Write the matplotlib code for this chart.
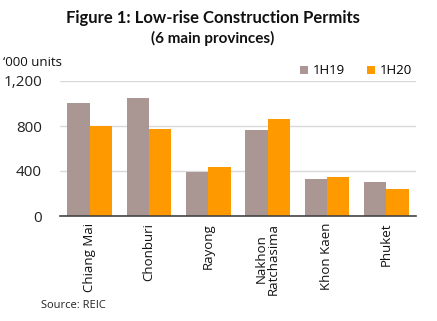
import matplotlib
matplotlib.use("Agg")
import matplotlib.pyplot as plt
import numpy as np

provinces = ["Chiang Mai", "Chonburi", "Rayong", "Nakhon\nRatchasima", "Khon Kaen", "Phuket"]
permits_1h19 = [1005, 1050, 392, 765, 330, 302]
permits_1h20 = [800, 775, 437, 862, 347, 240]
series_names = ["1H19", "1H20"]
y_ticks = [0, 400, 800, 1200]

plt.rcParams["font.family"] = ["Open Sans", "DejaVu Sans"]

fig = plt.figure(figsize=(4.37, 3.21), dpi=100)
W, H = 437, 321
ax = fig.add_axes([60 / W, 1 - 216 / H, 356 / W, 135 / H])

x = np.arange(len(provinces))
bw = 0.375
c19, c20 = "#AA9793", "#FF9900"
ax.bar(x - bw / 2, permits_1h19, bw, color=c19, label=series_names[0], zorder=2)
ax.bar(x + bw / 2, permits_1h20, bw, color=c20, label=series_names[1], zorder=2)

ax.set_xlim(-0.5, len(provinces) - 0.5)
ax.set_ylim(0, 1200)
ax.set_yticks(y_ticks)
ax.set_yticklabels([f"{v:,}" for v in y_ticks], fontsize=11, color="#222222")
ax.yaxis.grid(True, color="#D9D9D9", linewidth=1, zorder=0)
ax.set_xticks(x)
ax.set_xticklabels(provinces, rotation=90, fontsize=9.5, color="#111111",
                   va="top", ha="center", linespacing=0.9)
ax.tick_params(axis="both", length=0)
ax.tick_params(axis="y", pad=13)
ax.tick_params(axis="x", pad=5)
for s in ["top", "right", "left"]:
    ax.spines[s].set_visible(False)
ax.spines["bottom"].set_color("#444444")
ax.spines["bottom"].set_linewidth(1.2)
ax.spines["bottom"].set_zorder(3)

fig.text(213 / W, 1 - 18 / H, "Figure 1: Low-rise Construction Permits",
         ha="center", va="center", fontsize=12, fontweight="bold", color="#111111",
         family=["Lato", "DejaVu Sans"])
fig.text(213 / W, 1 - 38 / H, "(6 main provinces)",
         ha="center", va="center", fontsize=11, fontweight="bold", color="#111111",
         family=["Lato", "DejaVu Sans"])
fig.text(3 / W, 1 - 62 / H, "\u2018000 units", ha="left", va="center",
         fontsize=9.5, color="#111111")
fig.text(41 / W, 1 - 306 / H, "Source: REIC", ha="left", va="center",
         fontsize=8, color="#222222")

leg = fig.legend(loc="center", bbox_to_anchor=(356 / W, 1 - 71 / H), ncol=2,
                 frameon=False, fontsize=9.5, handlelength=0.6, handleheight=0.6,
                 handletextpad=0.35, columnspacing=1.7)

fig.savefig("out.png", dpi=100)
